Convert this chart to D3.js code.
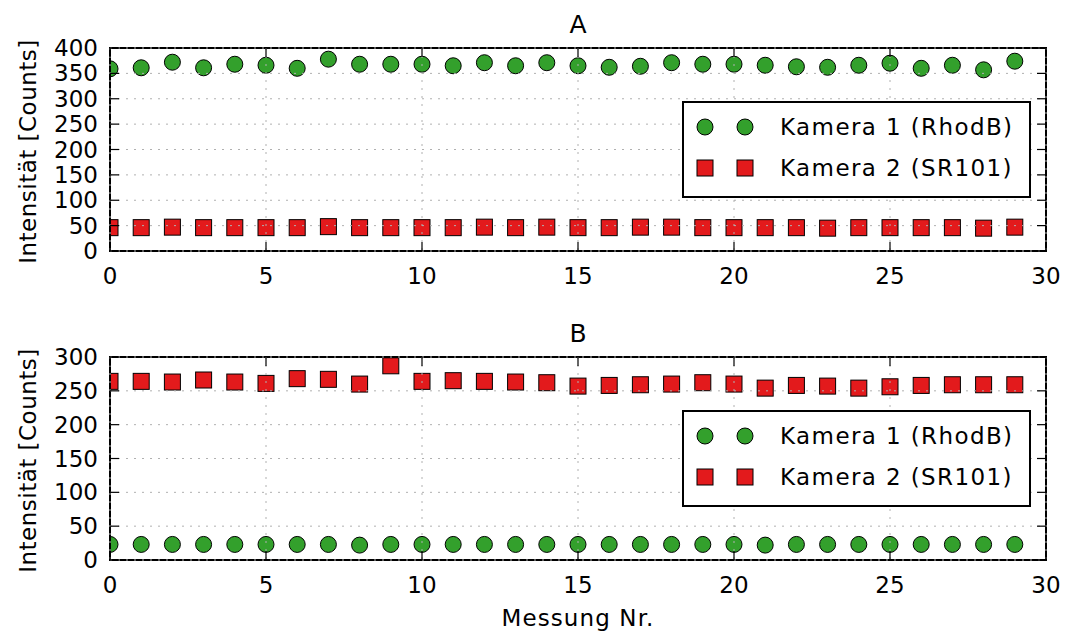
<!DOCTYPE html>
<html>
<head>
<meta charset="utf-8">
<script src="https://cdn.jsdelivr.net/npm/d3@7"></script>
<style>
  body { margin: 0; background: #fff; }
  text { font-family: "DejaVu Sans", sans-serif; fill: #000; }
</style>
</head>
<body>
<svg id="chart" width="1070" height="636"></svg>
<script>
// Measurement index (x axis)
const messung = [0,1,2,3,4,5,6,7,8,9,10,11,12,13,14,15,16,17,18,19,20,21,22,23,24,25,26,27,28,29];

// Panel A: intensities of both cameras
const aKamera1 = [359,361,372,361,368,366,360,378,368,368,368,365,371,365,371,365,362,364,371,368,368,366,363,362,366,370,360,366,357,374];
const aKamera2 = [46,46,47,46,46,46,46,48,46,46,46,46,47,46,47,46,46,47,47,46,46,46,46,45,46,46,46,46,45,47];

// Panel B: intensities of both cameras
const bKamera1 = [23,23,23,23,23,23,23,23,22,23,23,23,23,23,23,23,23,23,23,23,23,22,23,23,23,23,23,23,23,23];
const bKamera2 = [264,264,263,266,263,261,268,267,260,287,264,265,264,263,262,257,258,259,260,262,260,254,258,257,254,256,258,259,259,259];

const xTicks = [0,5,10,15,20,25,30];
const yTicksA = [0,50,100,150,200,250,300,350,400];
const yTicksB = [0,50,100,150,200,250,300];

const seriesNames = ["Kamera 1 (RhodB)", "Kamera 2 (SR101)"];
const green = "#33a02c", red = "#e31a1c";

const svg = d3.select("#chart");
const left = 110, right = 1046;

function panel(cfg) {
  const { id, title, top, bottom, yMax, yTicks, k1, k2 } = cfg;
  const x = d3.scaleLinear().domain([0, 30]).range([left, right]);
  const y = d3.scaleLinear().domain([0, yMax]).range([bottom, top]);
  const g = svg.append("g");

  g.append("clipPath").attr("id", "clip" + id)
    .append("rect").attr("x", left).attr("y", top)
    .attr("width", right - left).attr("height", bottom - top);

  const marks = g.append("g").attr("clip-path", `url(#clip${id})`);
  marks.selectAll("circle").data(k1).join("circle")
    .attr("cx", (d, i) => x(messung[i])).attr("cy", d => y(d)).attr("r", 8)
    .attr("fill", green).attr("stroke", "#000").attr("stroke-width", 1);
  marks.selectAll("rect").data(k2).join("rect")
    .attr("x", (d, i) => x(messung[i]) - 8).attr("y", d => y(d) - 8)
    .attr("width", 16).attr("height", 16)
    .attr("fill", red).attr("stroke", "#000").attr("stroke-width", 1);

  // frame
  g.append("rect").attr("x", left).attr("y", top)
    .attr("width", right - left).attr("height", bottom - top)
    .attr("fill", "none").attr("stroke", "#000").attr("stroke-width", 2);

  // dotted grid above the data
  const grid = g.append("g").attr("stroke", "#b0b0b0").attr("stroke-width", 1)
    .attr("stroke-dasharray", "2,6");
  grid.selectAll(".gx").data(xTicks).join("line")
    .attr("x1", d => x(d)).attr("x2", d => x(d)).attr("y1", top).attr("y2", bottom);
  grid.selectAll(".gy").data(yTicks).join("line")
    .attr("class", "gy")
    .attr("x1", left).attr("x2", right).attr("y1", d => y(d)).attr("y2", d => y(d));

  // inward ticks on all four sides
  const tl = 9;
  const ticks = g.append("g").attr("stroke", "#000").attr("stroke-width", 1.2);
  xTicks.forEach(t => {
    ticks.append("line").attr("x1", x(t)).attr("x2", x(t)).attr("y1", bottom).attr("y2", bottom - tl);
    ticks.append("line").attr("x1", x(t)).attr("x2", x(t)).attr("y1", top).attr("y2", top + tl);
  });
  yTicks.forEach(t => {
    ticks.append("line").attr("x1", left).attr("x2", left + tl).attr("y1", y(t)).attr("y2", y(t));
    ticks.append("line").attr("x1", right).attr("x2", right - tl).attr("y1", y(t)).attr("y2", y(t));
  });

  // tick labels
  g.selectAll(".xl").data(xTicks).join("text")
    .attr("x", d => x(d)).attr("y", bottom + 33)
    .attr("text-anchor", "middle").attr("font-size", 23).text(d => d);
  g.selectAll(".yl").data(yTicks).join("text")
    .attr("x", left - 12).attr("y", d => y(d) + 8)
    .attr("text-anchor", "end").attr("font-size", 23).text(d => d);

  // title
  g.append("text").attr("x", (left + right) / 2).attr("y", top - 15)
    .attr("text-anchor", "middle").attr("font-size", 25).text(title);

  // y label
  g.append("text")
    .attr("transform", `translate(36,${(top + bottom) / 2 + 2}) rotate(-90)`)
    .attr("text-anchor", "middle").attr("font-size", 23)
    .attr("letter-spacing", 0.5).text("Intensität [Counts]");

  // legend
  const lg = g.append("g");
  lg.append("rect").attr("x", 683).attr("y", top + 54).attr("width", 347).attr("height", 95)
    .attr("fill", "#fff").attr("stroke", "#000").attr("stroke-width", 2);
  const rows = [top + 79, top + 120];
  [705, 745].forEach(mx => {
    lg.append("circle").attr("cx", mx).attr("cy", rows[0]).attr("r", 8)
      .attr("fill", green).attr("stroke", "#000").attr("stroke-width", 1);
    lg.append("rect").attr("x", mx - 8).attr("y", rows[1] - 8).attr("width", 16).attr("height", 16)
      .attr("fill", red).attr("stroke", "#000").attr("stroke-width", 1);
  });
  seriesNames.forEach((s, i) => {
    lg.append("text").attr("x", 780).attr("y", rows[i] + 8)
      .attr("font-size", 23).attr("letter-spacing", 1.4).text(s);
  });
}

panel({ id: "A", title: "A", top: 48, bottom: 251, yMax: 400, yTicks: yTicksA, k1: aKamera1, k2: aKamera2 });
panel({ id: "B", title: "B", top: 357, bottom: 560, yMax: 300, yTicks: yTicksB, k1: bKamera1, k2: bKamera2 });

svg.append("text").attr("x", (left + right) / 2).attr("y", 626)
  .attr("text-anchor", "middle").attr("font-size", 23).attr("letter-spacing", 1.1)
  .text("Messung Nr.");
</script>
</body>
</html>
